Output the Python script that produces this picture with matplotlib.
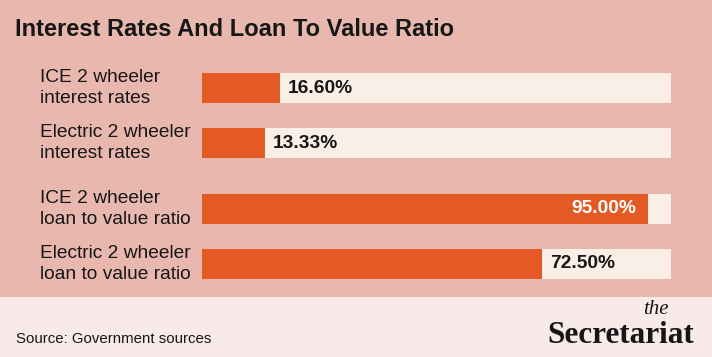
import matplotlib
matplotlib.use("Agg")
import matplotlib.pyplot as plt
from matplotlib import font_manager
from matplotlib.transforms import blended_transform_factory

W, H = 712, 357
BG = "#E8B8AE"
FOOTER = "#F8EAE8"
TRACK = "#FAEFE7"
ORANGE = "#E35A24"
INK = "#161616"

title = "Interest Rates And Loan To Value Ratio"
labels = [
    "ICE 2 wheeler\ninterest rates",
    "Electric 2 wheeler\ninterest rates",
    "ICE 2 wheeler\nloan to value ratio",
    "Electric 2 wheeler\nloan to value ratio",
]
values = [16.60, 13.33, 95.00, 72.50]
source = "Source: Government sources"

# layout: two groups, slightly wider gap between them
ypos = [0, 1, 2.2, 3.2]
BAR_H = 0.55


def pick(name, fallback="DejaVu Sans"):
    try:
        font_manager.findfont(name, fallback_to_default=False)
        return name
    except Exception:
        return fallback


NARROW = pick("Liberation Sans Narrow", "Liberation Sans")
SANS = pick("Liberation Sans")
SERIF = pick("Liberation Serif", "DejaVu Serif")


def px(x, y):
    return x / W, 1 - y / H


fig = plt.figure(figsize=(W / 100, H / 100), dpi=100, facecolor=BG)
fig.patches.append(plt.Rectangle((0, 0), 1, 1 - 297 / H, transform=fig.transFigure,
                                 facecolor=FOOTER, edgecolor="none", zorder=0))

ax = fig.add_axes([202 / W, 1 - 279 / H, (671 - 202) / W, (279 - 73) / H])
ax.set_xlim(0, 100)
ax.set_ylim(ypos[-1] + BAR_H / 2, ypos[0] - BAR_H / 2)
ax.axis("off")

ax.barh(ypos, [100] * len(values), height=BAR_H, color=TRACK, linewidth=0)
ax.barh(ypos, values, height=BAR_H, color=ORANGE, linewidth=0)

lbl_tr = blended_transform_factory(fig.transFigure, ax.transData)
for y, lab, v in zip(ypos, labels, values):
    ax.text(40 / W, y, lab, transform=lbl_tr, ha="left", va="center",
            fontsize=13.8, family=SANS, color=INK, linespacing=1.3)
    if v > 85:
        ax.annotate(f"{v:.2f}%", (v, y), xytext=(-11, 0), textcoords="offset pixels",
                    ha="right", va="center", fontsize=13.8, fontweight="bold",
                    family=SANS, color="white")
    else:
        ax.annotate(f"{v:.2f}%", (v, y), xytext=(8, 0), textcoords="offset pixels",
                    ha="left", va="center", fontsize=13.8, fontweight="bold",
                    family=SANS, color=INK)

fig.text(*px(15, 36), title, ha="left", va="baseline", fontsize=17,
         fontweight="bold", family=NARROW, color=INK)
fig.text(*px(16, 343), source, ha="left", va="baseline", fontsize=10.8,
         family=SANS, color=INK)
fig.text(*px(694, 343), "Secretariat", ha="right", va="baseline", fontsize=22.5,
         fontweight="bold", family=SERIF, color=INK)
fig.text(*px(669, 314), "the", ha="right", va="baseline", fontsize=15,
         style="italic", family=SERIF, color=INK)

fig.savefig("out.png", dpi=100, facecolor=BG)
